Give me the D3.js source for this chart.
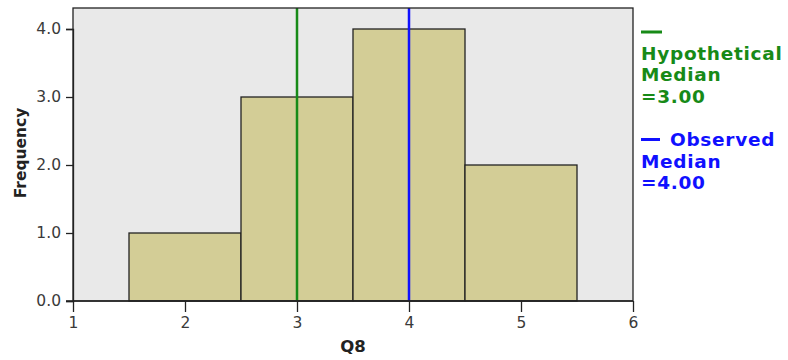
<!DOCTYPE html>
<html><head><meta charset="utf-8">
<script src="https://cdn.jsdelivr.net/npm/d3@7"></script>
<style>body{margin:0;background:#fff;} text{font-family:"DejaVu Sans",sans-serif;}</style>
</head><body><svg id="c" width="788" height="360"></svg>
<script>
const binStarts = [1.5, 2.5, 3.5, 4.5];
const binEnds = [2.5, 3.5, 4.5, 5.5];
const frequencies = [1, 3, 4, 2];
const xTicks = [1, 2, 3, 4, 5, 6];
const yTicks = [0, 1, 2, 3, 4];
const medianLabels = ["Hypothetical", "Observed"];
const medianValues = [3.0, 4.0];
const medianColors = ["#178a17", "#1010ff"];

const svg = d3.select("#c");
const L = 73, R = 633, T = 8, B = 301;
const x = d3.scaleLinear().domain([1, 6]).range([L, R]);
const y = d3.scaleLinear().domain([0, 4]).range([B, B - 4 * 68]);

svg.append("rect").attr("x", L).attr("y", T).attr("width", R - L).attr("height", B - T)
  .attr("fill", "#e9e9e9");

svg.selectAll("rect.bar").data(frequencies).enter().append("rect").attr("class", "bar")
  .attr("x", (d, i) => x(binStarts[i])).attr("width", (d, i) => x(binEnds[i]) - x(binStarts[i]))
  .attr("y", d => y(d)).attr("height", d => y(0) - y(d))
  .attr("fill", "#d3cd96").attr("stroke", "#222").attr("stroke-width", 1.3);

svg.selectAll("line.med").data(medianValues).enter().append("line").attr("class", "med")
  .attr("x1", d => x(d)).attr("x2", d => x(d)).attr("y1", T).attr("y2", B)
  .attr("stroke", (d, i) => medianColors[i]).attr("stroke-width", 2.5);

svg.append("rect").attr("x", L).attr("y", T).attr("width", R - L).attr("height", B - T)
  .attr("fill", "none").attr("stroke", "#222").attr("stroke-width", 1.3);

const yAxis = svg.append("g").attr("transform", `translate(${L},0)`)
  .call(d3.axisLeft(y).tickValues(yTicks).tickFormat(d3.format(".1f")).tickSize(7).tickPadding(5));
const xAxis = svg.append("g").attr("transform", `translate(0,${B})`)
  .call(d3.axisBottom(x).tickValues(xTicks).tickFormat(d3.format("d")).tickSize(11).tickPadding(5));
[yAxis, xAxis].forEach(a => {
  a.select(".domain").attr("stroke", "#222").attr("stroke-width", 1.3);
  a.selectAll(".tick line").attr("stroke", "#222").attr("stroke-width", 1.3);
  a.selectAll(".tick text").attr("fill", "#3a3a3a").style("font-size", "15.5px").style("font-family", "DejaVu Sans");
});
xAxis.select(".domain").attr("d", `M${L - 7},0H${R}`);

svg.append("text").attr("transform", "translate(26,153) rotate(-90)").attr("text-anchor", "middle")
  .style("font-size", "15.5px").style("font-weight", "bold").attr("fill", "#222").text("Frequency");
svg.append("text").attr("x", x(3.5)).attr("y", 352).attr("text-anchor", "middle")
  .style("font-size", "16.5px").style("font-weight", "bold").attr("fill", "#222").text("Q8");

// legend
const lg = svg.append("g");
const fs = "18.5px", ls = "0.7px";
lg.append("line").attr("x1", 641).attr("x2", 662).attr("y1", 32).attr("y2", 32)
  .attr("stroke", medianColors[0]).attr("stroke-width", 3);
[medianLabels[0], "Median", "=" + medianValues[0].toFixed(2)].forEach((t, i) => {
  lg.append("text").attr("x", 641).attr("y", 59.5 + i * 21.5).attr("fill", medianColors[0])
    .style("font-size", fs).style("letter-spacing", ls).style("font-weight", "bold").text(t);
});
lg.append("line").attr("x1", 641).attr("x2", 660).attr("y1", 139.5).attr("y2", 139.5)
  .attr("stroke", medianColors[1]).attr("stroke-width", 3);
lg.append("text").attr("x", 670).attr("y", 146).attr("fill", medianColors[1])
  .style("font-size", fs).style("letter-spacing", ls).style("font-weight", "bold").text(medianLabels[1]);
["Median", "=" + medianValues[1].toFixed(2)].forEach((t, i) => {
  lg.append("text").attr("x", 641).attr("y", 167.5 + i * 21).attr("fill", medianColors[1])
    .style("font-size", fs).style("letter-spacing", ls).style("font-weight", "bold").text(t);
});
</script></body></html>
